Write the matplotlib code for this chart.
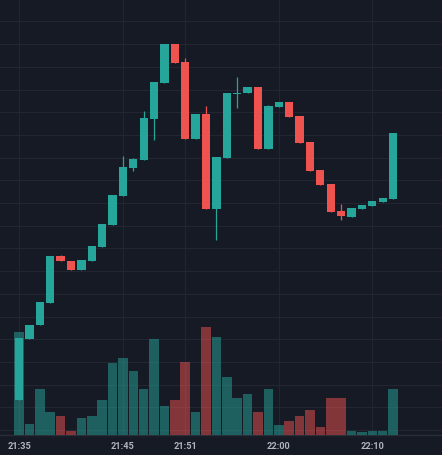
import numpy as np
import matplotlib
matplotlib.use("Agg")
import matplotlib.pyplot as plt
from matplotlib.ticker import MultipleLocator

# OHLC (1分足)
opens = [21.32, 24.01, 24.63, 25.59, 27.67, 27.44, 27.05, 27.44, 28.06, 29.03,
         30.31, 31.54, 31.89, 33.70, 35.29, 37.00, 36.21, 32.82, 33.92, 29.74,
         31.98, 34.82, 34.85, 35.11, 32.38, 34.23, 34.45, 33.83, 32.69, 31.45,
         30.84, 29.65, 29.38, 29.74, 29.87, 30.04, 30.18]
highs = [24.05, 24.63, 25.64, 27.67, 27.71, 27.44, 27.49, 28.11, 29.07, 30.35,
         32.07, 31.98, 34.05, 35.33, 37.00, 37.00, 36.39, 33.92, 34.27, 32.03,
         34.85, 35.55, 35.11, 35.11, 34.32, 34.45, 34.45, 33.83, 32.69, 31.45,
         30.84, 29.96, 29.78, 29.91, 30.09, 30.22, 33.08]
lows = [21.32, 24.01, 24.63, 25.59, 27.44, 27.05, 27.05, 27.44, 28.06, 29.03,
        30.31, 31.41, 31.89, 32.78, 35.29, 36.17, 32.82, 32.82, 29.74, 28.37,
        31.98, 34.19, 34.85, 32.38, 32.38, 34.23, 33.79, 32.64, 31.41, 30.79,
        29.60, 29.25, 29.38, 29.74, 29.87, 30.04, 30.18]
closes = [24.05, 24.63, 25.64, 27.67, 27.44, 27.05, 27.49, 28.11, 29.07, 30.35,
          31.59, 31.94, 33.74, 35.33, 37.00, 36.17, 32.82, 33.92, 29.74, 32.03,
          34.85, 34.87, 35.11, 32.38, 34.27, 34.45, 33.79, 32.64, 31.41, 30.79,
          29.60, 29.43, 29.78, 29.91, 30.09, 30.22, 33.08]
volumes = [103, 11, 46, 23, 19, 4.4, 17, 19, 35, 72,
           77, 64, 46, 96, 29, 35, 73, 23, 108, 98,
           58, 37, 41, 23, 46, 10.4, 14, 19.4, 25.4, 7.7,
           37, 37, 4.4, 2.7, 3.7, 3.7, 46]

# 時間軸のラベル
tick_idx = [0, 10, 16, 25, 34]
tick_labels = ['21:35', '21:45', '21:51', '22:00', '22:10']

bg = '#161a25'
up = '#26a69a'
down = '#ef5350'

o = np.array(opens)
c = np.array(closes)
x = np.arange(len(o))
is_up = c >= o
colors = np.where(is_up, up, down)

price_lim = (19.78, 38.99)

fig = plt.figure(figsize=(4.42, 4.56), dpi=100, facecolor=bg)
# 一番下: グリッドと時間軸
ax = fig.add_axes([0, 20 / 456, 1, 436 / 456], facecolor=bg)
axv = ax.twinx()   # 出来高
axc = ax.twinx()   # ローソク足

ax.set_xlim(-1.83, 40.71)
ax.set_ylim(*price_lim)
ax.yaxis.set_major_locator(MultipleLocator(1))
ax.set_yticklabels([])
ax.tick_params(axis='y', length=0)
ax.set_xticks(tick_idx, tick_labels)
ax.tick_params(axis='x', length=0, pad=4, colors='#b2b5be', labelsize=6.6)
for lab in ax.get_xticklabels():
    lab.set_family(['Roboto', 'DejaVu Sans'])
    lab.set_fontweight('bold')
ax.grid(True, color='#232632', linewidth=0.8)
for name, s in ax.spines.items():
    s.set_visible(name == 'bottom')
ax.spines['bottom'].set_color('#2a2e39')
ax.spines['bottom'].set_linewidth(1)

# 出来高（下側）
axv.bar(x, volumes, width=0.92, color=colors, alpha=0.5, linewidth=0)
axv.set_ylim(0, max(volumes) / 0.248)
axv.set_yticks([])
for s in axv.spines.values():
    s.set_visible(False)

# ローソク足
axc.vlines(x, lows, highs, colors=colors, linewidth=0.9)
body_h = np.maximum(np.abs(c - o), 0.05)
axc.bar(x, body_h, bottom=np.minimum(o, c), width=0.8, color=colors,
        linewidth=0)
axc.set_ylim(*price_lim)
axc.set_yticks([])
for s in axc.spines.values():
    s.set_visible(False)

fig.savefig('out.png', dpi=100, facecolor=bg)
